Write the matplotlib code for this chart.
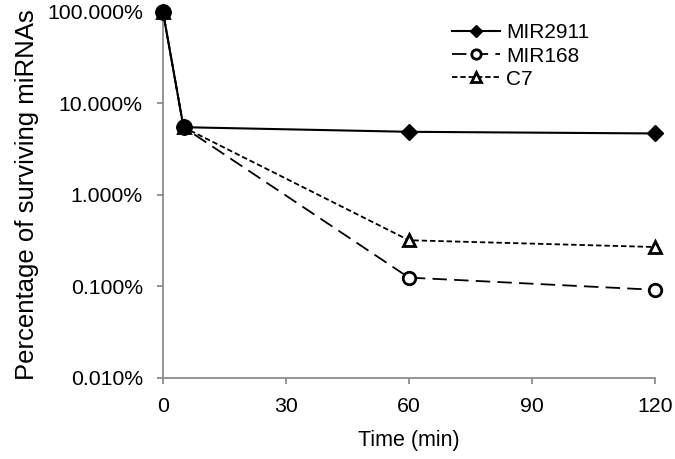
import matplotlib.pyplot as plt
import matplotlib.ticker as mticker

plt.rcParams['font.family'] = ['Liberation Sans', 'DejaVu Sans']

time_min = [0, 5, 60, 120]
mir2911 = [100.0, 5.5, 4.9, 4.7]
mir168 = [100.0, 5.5, 0.125, 0.092]
c7 = [100.0, 5.5, 0.32, 0.27]

fig = plt.figure(figsize=(6.75, 4.59), dpi=100)
ax = fig.add_axes([0.2415, 0.1765, 0.7285, 0.7975])

ax.plot(time_min, c7, color='black', lw=1.3, ls=(0, (3, 1.6)),
        marker='^', ms=9, mfc='white', mec='black', mew=2, label='C7')
ax.plot(time_min, mir168, color='black', lw=1.3, ls=(0, (8, 4)),
        marker='o', ms=9, mfc='white', mec='black', mew=2, label='MIR168')
# first two points overlap as a solid blob
ax.plot(time_min[:2], mir168[:2], ls='none', marker='o', ms=11,
        mfc='black', mec='black')
ax.plot(time_min, mir2911, color='black', lw=1.5, ls='-',
        marker='D', ms=8, mfc='black', mec='black', label='MIR2911')

ax.set_yscale('log')
ax.set_ylim(0.01, 100)
ax.set_xlim(0, 120)
ax.set_xticks([0, 30, 60, 90, 120])
ax.set_yticks([0.01, 0.1, 1, 10, 100])
ax.yaxis.set_major_formatter(mticker.FuncFormatter(lambda v, p: f'{v:.3f}%'))
ax.yaxis.set_minor_locator(mticker.NullLocator())

for s in ['top', 'right']:
    ax.spines[s].set_visible(False)
for s in ['left', 'bottom']:
    ax.spines[s].set_color('#8c8c8c')
    ax.spines[s].set_linewidth(1.3)
ax.tick_params(axis='both', colors='#8c8c8c', length=4.5, width=1.3,
               labelsize=15.3, labelcolor='black')
ax.tick_params(axis='y', pad=10)
ax.tick_params(axis='x', pad=9)
ax.set_xlabel('Time (min)', fontsize=15.5, labelpad=10)
ax.set_ylabel('Percentage of surviving miRNAs', fontsize=18.5, labelpad=6)

h, l = ax.get_legend_handles_labels()
ax.legend(h[::-1], l[::-1], loc='upper right', frameon=False, fontsize=15,
          handlelength=2.3, handletextpad=0.3, markerscale=0.75,
          labelspacing=0.2, bbox_to_anchor=(0.905, 1.02))

for sp in ['left', 'bottom']:
    ax.spines[sp].set_zorder(0)
for line in ax.lines:
    line.set_clip_on(False)

fig.savefig('out.png', dpi=100)
